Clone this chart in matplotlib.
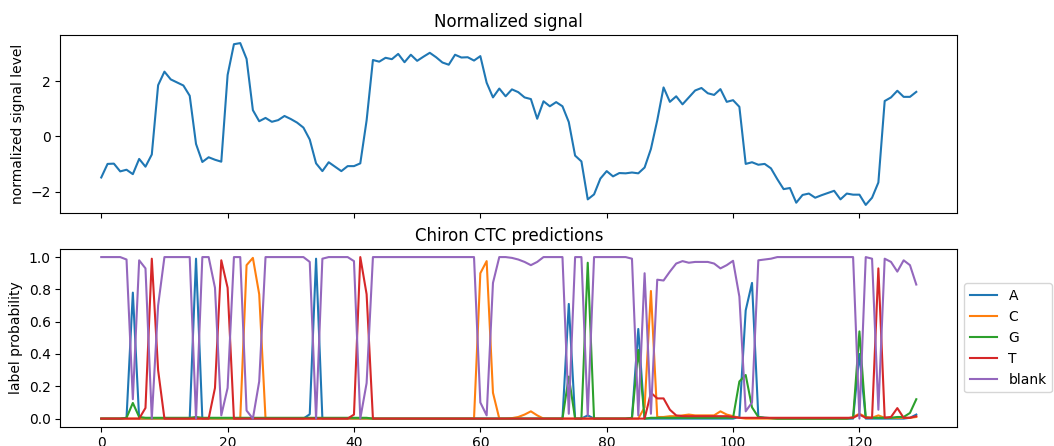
import matplotlib
matplotlib.use('Agg')
import matplotlib.pyplot as plt
import numpy as np

# normalized raw signal, one value per event
signal = [
    -1.48, -0.99, -0.98, -1.26, -1.20, -1.36, -0.81, -1.09, -0.65, 1.85,
    2.34, 2.06, 1.95, 1.84, 1.47, -0.27, -0.92, -0.75, -0.84, -0.91,
    2.22, 3.33, 3.37, 2.80, 0.95, 0.55, 0.67, 0.53, 0.59, 0.74,
    0.63, 0.50, 0.32, -0.11, -0.97, -1.25, -0.93, -1.09, -1.25, -1.07,
    -1.07, -0.97, 0.58, 2.76, 2.70, 2.84, 2.79, 2.98, 2.68, 2.95,
    2.73, 2.88, 3.02, 2.86, 2.67, 2.59, 2.95, 2.85, 2.86, 2.74,
    2.90, 1.94, 1.41, 1.73, 1.45, 1.70, 1.60, 1.41, 1.35, 0.64,
    1.27, 1.09, 1.24, 1.09, 0.52, -0.69, -0.90, -2.27, -2.09, -1.52,
    -1.25, -1.44, -1.32, -1.33, -1.30, -1.33, -1.12, -0.45, 0.58, 1.77,
    1.25, 1.45, 1.16, 1.41, 1.66, 1.75, 1.56, 1.50, 1.71, 1.25,
    1.31, 1.07, -0.99, -0.93, -1.02, -0.99, -1.15, -1.54, -1.90, -1.86,
    -2.39, -2.11, -2.06, -2.21, -2.12, -2.04, -1.96, -2.27, -2.06, -2.10,
    -2.10, -2.47, -2.21, -1.66, 1.28, 1.41, 1.65, 1.43, 1.43, 1.61,
]

# CTC label probabilities per event
prob_A = [
    0.0, 0.0, 0.0, 0.0, 0.005, 0.78, 0.0, 0.0, 0.0, 0.0,
    0.0, 0.0, 0.0, 0.0, 0.0, 0.99, 0.0, 0.0, 0.0, 0.0,
    0.0, 0.0, 0.0, 0.0, 0.0, 0.0, 0.0, 0.0, 0.0, 0.0,
    0.0, 0.0, 0.0, 0.027, 0.99, 0.0, 0.0, 0.0, 0.0, 0.0,
    0.0, 0.0, 0.0, 0.0, 0.0, 0.0, 0.0, 0.0, 0.0, 0.0,
    0.0, 0.0, 0.0, 0.0, 0.0, 0.0, 0.0, 0.0, 0.0, 0.0,
    0.0, 0.0, 0.0, 0.0, 0.0, 0.0, 0.0, 0.0, 0.0, 0.0,
    0.0, 0.0, 0.0, 0.0, 0.71, 0.0, 0.0, 0.02, 0.0, 0.0,
    0.0, 0.0, 0.0, 0.0, 0.005, 0.555, 0.0, 0.0, 0.0, 0.0,
    0.0, 0.0, 0.0, 0.0, 0.0, 0.0, 0.0, 0.0, 0.0, 0.0,
    0.0, 0.01, 0.67, 0.84, 0.01, 0.005, 0.003, 0.0, 0.0, 0.0,
    0.0, 0.0, 0.0, 0.0, 0.0, 0.0, 0.0, 0.0, 0.0, 0.0,
    0.40, 0.0, 0.0, 0.0, 0.0, 0.0, 0.0, 0.0, 0.005, 0.025,
]
prob_C = [
    0.0, 0.0, 0.0, 0.0, 0.0, 0.0, 0.0, 0.0, 0.0, 0.0,
    0.0, 0.0, 0.0, 0.0, 0.0, 0.0, 0.0, 0.0, 0.0, 0.0,
    0.0, 0.0, 0.0, 0.95, 0.995, 0.77, 0.0, 0.0, 0.0, 0.0,
    0.0, 0.0, 0.0, 0.0, 0.0, 0.0, 0.0, 0.0, 0.0, 0.0,
    0.0, 0.0, 0.0, 0.0, 0.0, 0.0, 0.0, 0.0, 0.0, 0.0,
    0.0, 0.0, 0.0, 0.0, 0.0, 0.0, 0.0, 0.0, 0.0, 0.0,
    0.90, 0.975, 0.16, 0.0, 0.0, 0.003, 0.01, 0.025, 0.045, 0.02,
    0.0, 0.0, 0.0, 0.0, 0.0, 0.0, 0.0, 0.0, 0.0, 0.0,
    0.0, 0.0, 0.0, 0.0, 0.0, 0.0, 0.07, 0.79, 0.01, 0.01,
    0.015, 0.015, 0.02, 0.025, 0.02, 0.02, 0.02, 0.02, 0.045, 0.025,
    0.015, 0.005, 0.0, 0.0, 0.0, 0.0, 0.0, 0.0, 0.0, 0.0,
    0.0, 0.0, 0.0, 0.0, 0.0, 0.0, 0.0, 0.0, 0.0, 0.01,
    0.03, 0.01, 0.005, 0.02, 0.005, 0.005, 0.005, 0.005, 0.005, 0.01,
]
prob_G = [
    0.0, 0.0, 0.0, 0.0, 0.005, 0.097, 0.01, 0.005, 0.005, 0.005,
    0.005, 0.005, 0.005, 0.005, 0.005, 0.01, 0.005, 0.005, 0.005, 0.005,
    0.005, 0.005, 0.005, 0.005, 0.005, 0.005, 0.005, 0.005, 0.005, 0.005,
    0.005, 0.005, 0.005, 0.005, 0.005, 0.005, 0.005, 0.005, 0.005, 0.005,
    0.005, 0.005, 0.005, 0.0, 0.0, 0.0, 0.0, 0.0, 0.0, 0.0,
    0.0, 0.0, 0.0, 0.0, 0.0, 0.0, 0.0, 0.0, 0.0, 0.0,
    0.0, 0.0, 0.0, 0.0, 0.0, 0.0, 0.0, 0.0, 0.0, 0.0,
    0.0, 0.0, 0.0, 0.0, 0.26, 0.0, 0.0, 0.965, 0.0, 0.0,
    0.0, 0.0, 0.0, 0.0, 0.005, 0.425, 0.0, 0.005, 0.005, 0.005,
    0.005, 0.005, 0.005, 0.005, 0.005, 0.005, 0.005, 0.005, 0.005, 0.005,
    0.005, 0.23, 0.27, 0.07, 0.01, 0.005, 0.003, 0.0, 0.0, 0.0,
    0.0, 0.0, 0.0, 0.0, 0.0, 0.0, 0.0, 0.0, 0.0, 0.005,
    0.54, 0.005, 0.005, 0.005, 0.005, 0.005, 0.01, 0.01, 0.035, 0.12,
]
prob_T = [
    0.0, 0.0, 0.0, 0.0, 0.0, 0.0, 0.0, 0.066, 0.99, 0.30,
    0.0, 0.0, 0.0, 0.0, 0.0, 0.0, 0.0, 0.0, 0.19, 0.98,
    0.81, 0.0, 0.0, 0.0, 0.0, 0.0, 0.0, 0.0, 0.0, 0.0,
    0.0, 0.0, 0.0, 0.0, 0.0, 0.0, 0.0, 0.0, 0.0, 0.0,
    0.025, 1.0, 0.77, 0.0, 0.0, 0.0, 0.0, 0.0, 0.0, 0.0,
    0.0, 0.0, 0.0, 0.0, 0.0, 0.0, 0.0, 0.0, 0.0, 0.0,
    0.0, 0.0, 0.0, 0.0, 0.0, 0.0, 0.0, 0.0, 0.0, 0.0,
    0.0, 0.0, 0.0, 0.0, 0.0, 0.0, 0.0, 0.0, 0.0, 0.0,
    0.0, 0.0, 0.0, 0.0, 0.0, 0.0, 0.0, 0.16, 0.125, 0.125,
    0.055, 0.02, 0.015, 0.015, 0.015, 0.015, 0.015, 0.015, 0.015, 0.015,
    0.01, 0.005, 0.005, 0.005, 0.005, 0.005, 0.005, 0.005, 0.005, 0.005,
    0.005, 0.005, 0.005, 0.005, 0.005, 0.005, 0.005, 0.005, 0.005, 0.005,
    0.025, 0.005, 0.005, 0.93, 0.005, 0.01, 0.065, 0.005, 0.005, 0.015,
]
prob_blank = [
    1.0, 1.0, 1.0, 1.0, 0.985, 0.12, 0.98, 0.93, 0.0, 0.70,
    1.0, 1.0, 1.0, 1.0, 1.0, 0.0, 1.0, 1.0, 0.81, 0.02,
    0.19, 1.0, 1.0, 0.05, 0.0, 0.23, 1.0, 1.0, 1.0, 1.0,
    1.0, 1.0, 1.0, 0.97, 0.0, 0.99, 1.0, 1.0, 1.0, 1.0,
    0.975, 0.0, 0.22, 1.0, 1.0, 1.0, 1.0, 1.0, 1.0, 1.0,
    1.0, 1.0, 1.0, 1.0, 1.0, 1.0, 1.0, 1.0, 1.0, 1.0,
    0.10, 0.02, 0.84, 1.0, 1.0, 0.995, 0.985, 0.97, 0.95, 0.97,
    1.0, 1.0, 1.0, 1.0, 0.03, 1.0, 1.0, 0.02, 1.0, 1.0,
    1.0, 1.0, 1.0, 1.0, 0.99, 0.02, 0.90, 0.03, 0.86, 0.855,
    0.91, 0.96, 0.975, 0.965, 0.97, 0.97, 0.97, 0.96, 0.93, 0.95,
    0.977, 0.755, 0.045, 0.10, 0.98, 0.985, 0.99, 1.0, 1.0, 1.0,
    1.0, 1.0, 1.0, 1.0, 1.0, 1.0, 1.0, 1.0, 1.0, 1.0,
    0.0, 1.0, 0.99, 0.055, 0.99, 0.97, 0.91, 0.98, 0.95, 0.83,
]
labels = ['A', 'C', 'G', 'T', 'blank']

x = np.arange(len(signal))

fig = plt.figure(figsize=(10.54, 4.46), dpi=100)
ax1 = fig.add_axes([0.0574, 0.5224, 0.8506, 0.3991])
ax2 = fig.add_axes([0.0574, 0.0433, 0.8506, 0.3984], sharex=ax1)

ax1.plot(x, signal)
ax1.set_title('Normalized signal')
ax1.set_ylabel('normalized signal level')
ax1.tick_params(labelbottom=False)

for probs, name in zip([prob_A, prob_C, prob_G, prob_T, prob_blank], labels):
    ax2.plot(x, probs, label=name)
ax2.set_title('Chiron CTC predictions')
ax2.set_ylabel('label probability')
ax2.legend(loc='center left', bbox_to_anchor=(1.0, 0.5))

fig.savefig('out.png', dpi=100)
